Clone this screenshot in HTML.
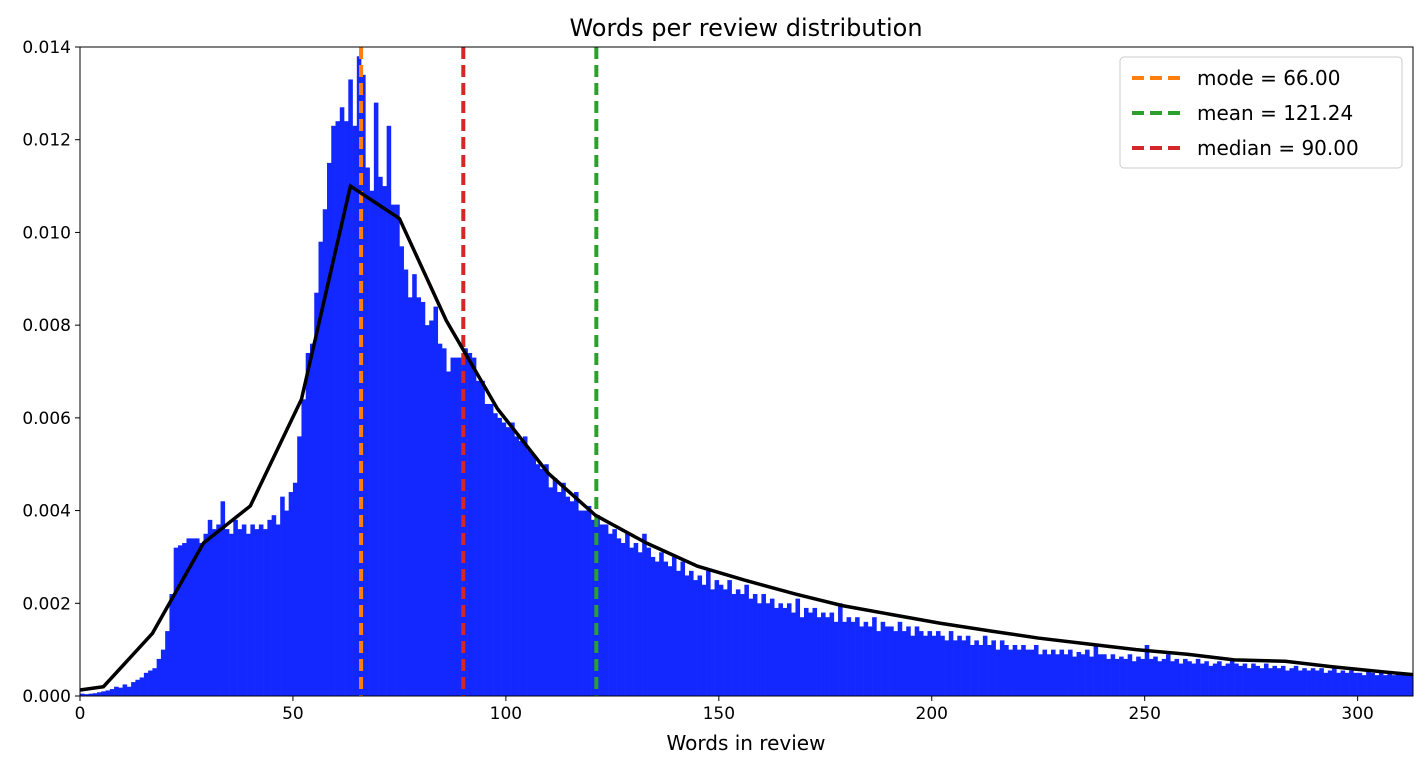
<!DOCTYPE html>
<html><head><meta charset="utf-8"><style>
body{margin:0;background:#fff;}
svg{font-family:"DejaVu Sans","Liberation Sans",sans-serif;}
</style></head><body>
<svg id="chart" width="1426" height="760">
<text x="746" y="36" text-anchor="middle" font-size="24">Words per review distribution</text>
<text x="746" y="750" text-anchor="middle" font-size="20">Words in review</text>
<g id="bars"></g>
<g id="vlines"></g>
<g id="axes"></g>
<g>
<rect x="1120" y="57" width="282" height="111" rx="4" fill="#fff" fill-opacity="0.8" stroke="#ccc"/>
<line x1="1132" y1="78" x2="1180" y2="78" stroke="#ff7f0e" stroke-width="4" stroke-dasharray="12,6"/>
<text x="1197" y="85" font-size="20">mode = 66.00</text>
<line x1="1132" y1="113" x2="1180" y2="113" stroke="#2ca02c" stroke-width="4" stroke-dasharray="12,6"/>
<text x="1197" y="120" font-size="20">mean = 121.24</text>
<line x1="1132" y1="148" x2="1180" y2="148" stroke="#d62728" stroke-width="4" stroke-dasharray="12,6"/>
<text x="1197" y="155" font-size="20">median = 90.00</text>
</g>
</svg>
<script>
const binValues = [0.05,0.04,0.05,0.06,0.08,0.1,0.12,0.15,0.2,0.18,
0.25,0.2,0.3,0.35,0.4,0.5,0.55,0.6,0.8,1.0,
1.4,2.2,3.2,3.25,3.3,3.4,3.4,3.4,3.3,3.5,
3.8,3.6,3.7,4.2,3.6,3.5,3.8,3.6,3.7,3.5,
3.7,3.6,3.7,3.6,3.8,3.9,3.7,4.3,4.0,4.4,
4.6,5.6,6.4,7.4,7.6,8.7,9.8,10.5,11.5,12.3,
12.4,12.7,12.4,13.3,12.3,13.8,13.4,11.4,10.9,12.8,
11.2,11.0,12.3,10.6,10.6,9.7,9.2,8.6,9.1,8.6,
8.5,8.0,8.1,8.4,7.6,7.5,7.0,7.3,7.3,7.3,
7.5,7.4,7.3,6.8,6.8,6.3,6.3,6.1,6.0,5.9,
5.8,5.9,5.6,5.5,5.6,5.3,5.2,5.0,4.9,5.0,
4.5,4.7,4.4,4.6,4.3,4.2,4.4,4.0,4.0,4.1,
3.8,3.9,3.7,3.7,3.5,3.6,3.4,3.3,3.5,3.2,
3.3,3.1,3.5,3.2,3.0,2.9,3.1,2.9,2.8,3.0,
2.7,2.9,2.6,2.7,2.5,2.6,2.4,2.7,2.3,2.5,
2.4,2.3,2.5,2.2,2.3,2.2,2.4,2.1,2.2,2.0,
2.2,2.0,2.1,1.9,2.0,1.9,2.0,1.8,2.1,1.7,
1.9,1.8,1.9,1.7,1.8,1.7,1.8,1.6,2.0,1.6,
1.7,1.6,1.7,1.5,1.6,1.5,1.7,1.4,1.6,1.5,
1.5,1.4,1.6,1.4,1.5,1.3,1.5,1.4,1.3,1.4,
1.3,1.4,1.3,1.2,1.4,1.2,1.3,1.2,1.3,1.1,
1.2,1.1,1.3,1.1,1.2,1.0,1.2,1.1,1.0,1.1,
1.0,1.1,1.0,1.0,1.1,0.9,1.0,0.9,1.0,0.9,
1.0,0.9,1.0,0.85,0.95,0.9,1.0,0.85,1.1,0.9,
0.9,0.8,0.9,0.8,0.85,0.8,0.9,0.75,0.85,0.8,
1.1,0.8,0.85,0.75,0.8,0.9,0.75,0.8,0.7,0.8,
0.75,0.7,0.8,0.7,0.75,0.65,0.7,0.75,0.65,0.7,
0.8,0.7,0.65,0.7,0.6,0.7,0.65,0.6,0.7,0.6,
0.65,0.6,0.65,0.55,0.6,0.65,0.55,0.6,0.55,0.6,
0.55,0.6,0.5,0.55,0.6,0.5,0.55,0.5,0.55,0.5,
0.5,0.45,0.55,0.5,0.45,0.5,0.45,0.5,0.45,0.5,
0.45,0.5,0.45];
const curveX = [0,5.5,17,29,40,52,63.5,75,86,98,110,121,133,145,156,168,179,191,202,214,225,237,248,260,271,283,294,306,313];
const curveY = [0.13,0.2,1.35,3.3,4.1,6.4,11.0,10.3,8.1,6.2,4.8,3.9,3.3,2.8,2.5,2.2,1.95,1.75,1.57,1.4,1.25,1.12,1.0,0.9,0.78,0.75,0.63,0.52,0.46];
const statNames = ["mode","median","mean"];
const statValues = [66.0,90.0,121.24];
const statColors = ["#ff7f0e","#d62728","#2ca02c"];
const xTicks = [0,50,100,150,200,250,300];
const yTicks = [0,2,4,6,8,10,12,14];
const yTickLabels = ["0.000","0.002","0.004","0.006","0.008","0.010","0.012","0.014"];

const X0=80,X1=1413,Y0=696,Y1=47,XMAX=313,YMAX=14;
const sx=v=>X0+v/XMAX*(X1-X0);
const sy=v=>Y0-v/YMAX*(Y0-Y1);
const NS="http://www.w3.org/2000/svg";
function mk(tag,attrs,parent){const e=document.createElementNS(NS,tag);for(const k in attrs)e.setAttribute(k,attrs[k]);parent.appendChild(e);return e;}
const bars=document.getElementById('bars');
binValues.forEach((v,i)=>{
  const x=sx(i),w=sx(i+1)-x;
  const r=mk('rect',{x:x,y:sy(v),width:w+0.3,height:Y0-sy(v),fill:'#1228ff'},bars);
  
  
});
const vl=document.getElementById('vlines');
statValues.forEach((v,i)=>{
  const l=mk('line',{x1:sx(v),x2:sx(v),y1:Y1,y2:Y0,stroke:statColors[i],'stroke-width':4,'stroke-dasharray':'12,6'},vl);
  
  
});
const pl=mk('polyline',{points:curveX.map((x,i)=>sx(x)+','+sy(curveY[i])).join(' '),fill:'none',stroke:'#000','stroke-width':3.5},vl);


const ax=document.getElementById('axes');
const fr=mk('rect',{x:X0,y:Y1,width:X1-X0,height:Y0-Y1,fill:'none',stroke:'#000','stroke-width':1},ax);


xTicks.forEach(t=>{
  mk('line',{x1:sx(t),x2:sx(t),y1:Y0,y2:Y0+5,stroke:'#000'},ax);
  const tx=mk('text',{x:sx(t),y:Y0+23,'text-anchor':'middle','font-size':17},ax);
  tx.textContent=t;
  
  
});
yTicks.forEach((t,i)=>{
  mk('line',{x1:X0-5,x2:X0,y1:sy(t),y2:sy(t),stroke:'#000'},ax);
  const tx=mk('text',{x:X0-9,y:sy(t)+6,'text-anchor':'end','font-size':17},ax);
  tx.textContent=yTickLabels[i];
  
  
});
</script>
</body></html>
